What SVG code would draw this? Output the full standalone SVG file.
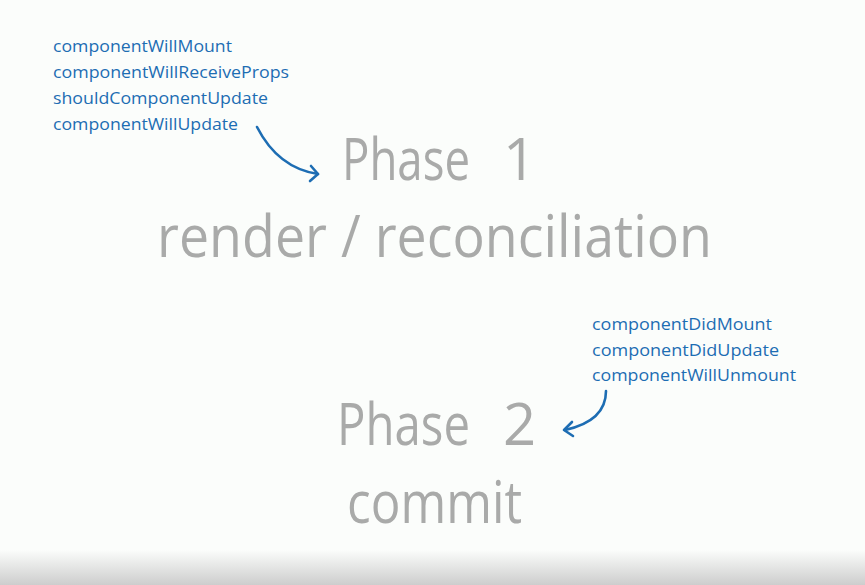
<svg xmlns="http://www.w3.org/2000/svg" width="865" height="585" viewBox="0 0 865 585">
<style>
.m{font-family:"Open Sans","Noto Sans",sans-serif;font-size:17px;fill:#1d6db3}
.p{font-family:"Open Sans","Noto Sans",sans-serif;font-size:58px;fill:#a9aaa9}
.c{fill:none;stroke:#1d6db3;stroke-width:2.6;stroke-linecap:round;stroke-linejoin:round}
</style>
<defs>
<linearGradient id="bg" x1="0" y1="0" x2="0" y2="1">
<stop offset="0" stop-color="#fbfdfb"/>
<stop offset="0.94" stop-color="#fbfdfb"/>
<stop offset="1" stop-color="#cdcdcd"/>
</linearGradient>
</defs>
<rect width="865" height="585" fill="url(#bg)"/>
<g id="render-methods">
<text class="m" x="53" y="52" textLength="179" lengthAdjust="spacingAndGlyphs">componentWillMount</text>
<text class="m" x="53" y="78" textLength="236" lengthAdjust="spacingAndGlyphs">componentWillReceiveProps</text>
<text class="m" x="53" y="104" textLength="215" lengthAdjust="spacingAndGlyphs">shouldComponentUpdate</text>
<text class="m" x="53" y="130" textLength="185" lengthAdjust="spacingAndGlyphs">componentWillUpdate</text>
</g>
<g id="commit-methods">
<text class="m" x="592" y="330" textLength="180" lengthAdjust="spacingAndGlyphs">componentDidMount</text>
<text class="m" x="592" y="356" textLength="187" lengthAdjust="spacingAndGlyphs">componentDidUpdate</text>
<text class="m" x="592" y="381" textLength="204" lengthAdjust="spacingAndGlyphs">componentWillUnmount</text>
</g>
<g id="phase1">
<text class="p" x="342" y="180" textLength="128" lengthAdjust="spacingAndGlyphs">Phase</text>
<text class="p" x="503" y="180">1</text>
<text class="p" x="157" y="257" textLength="555" lengthAdjust="spacingAndGlyphs">render / reconciliation</text>
</g>
<g id="phase2">
<text class="p" x="337" y="445" textLength="133" lengthAdjust="spacingAndGlyphs">Phase</text>
<text class="p" x="503" y="445">2</text>
<text class="p" x="347" y="523" textLength="175" lengthAdjust="spacingAndGlyphs">commit</text>
</g>
<g id="connectors">
<path class="c" d="M257,127 Q278,168 318,174"/>
<path class="c" d="M311,166 L318,174 L310,181"/>
<path class="c" d="M606,391 Q606,421 565,430"/>
<path class="c" d="M572,422 L564,430 L573,436"/>
</g>
</svg>
